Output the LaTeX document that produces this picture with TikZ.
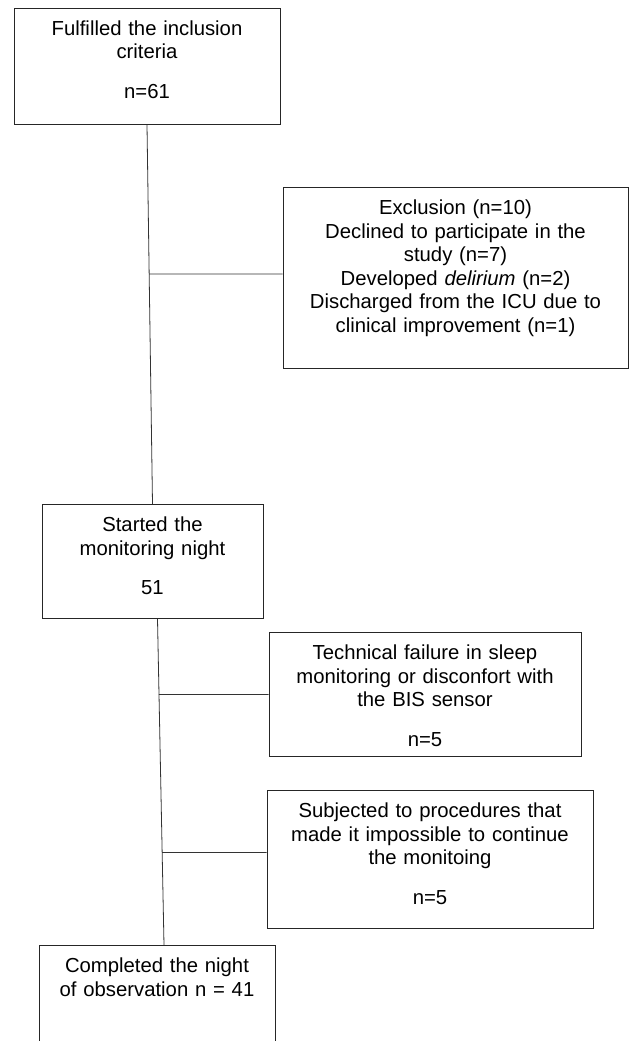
\documentclass[tikz,border=0pt]{standalone}
\usepackage{fontspec}
\setmainfont{Liberation Sans}
\usetikzlibrary{positioning,calc}

\begin{document}
\begin{tikzpicture}[x=1pt, y=-1pt,
flowbox/.style={draw=black!85, line width=1pt, anchor=north, align=center, inner xsep=4pt, inner ysep=12.5pt, text height=14.5pt, font=\fontsize{20.3}{23.5}\selectfont},
link/.style={draw=black!80, line width=0.8pt}]
\useasboundingbox (0,0) rectangle (632,1041);
\clip (0,0) rectangle (632,1041);
\node[flowbox, text width=258pt, text depth=76.5pt] (crit) at (147,8)
{Fulfilled the inclusion\\criteria\\[16.5pt]n=61};
\node[flowbox, text width=337pt, text depth=141.5pt] (excl) at (455.5,187)
{Exclusion (n=10)\\Declined to participate in the\\study (n=7)\\Developed \textit{delirium} (n=2)\\Discharged from the ICU due to\\clinical improvement (n=1)};
\node[flowbox, text width=213pt, text depth=74.5pt] (start) at (152.5,504)
{Started the\\monitoring night\\[16pt]51};
\node[flowbox, text width=304pt, text depth=84.5pt] (tech) at (425,632)
{Technical failure in sleep\\monitoring or disconfort with\\the BIS sensor\\[16pt]n=5};
\node[flowbox, text width=318pt, text depth=98.5pt] (proc) at (430,790)
{Subjected to procedures that\\made it impossible to continue\\the monitoing\\[16pt]n=5};
\node[flowbox, text width=228pt, text depth=75pt] (done) at (157,945)
{Completed the night\\of observation n = 41};
% trunk ends and branch points
\coordinate (t1) at ([xshift=5pt]start.south);
\coordinate (t2) at ([xshift=7pt]done.north);
\coordinate (bexcl) at ([yshift=4pt]excl.west);
\coordinate (bproc) at ([yshift=7pt]proc.west);
\path[link]
(crit.south) edge (start.north)
(t1) edge (t2)
(bexcl) edge (intersection cs: first line={(crit.south)--(start.north)}, second line={(bexcl)--([xshift=-10pt]bexcl)})
(tech.west) edge (intersection cs: first line={(t1)--(t2)}, second line={(tech.west)--([xshift=-10pt]tech.west)})
(bproc) edge (intersection cs: first line={(t1)--(t2)}, second line={(bproc)--([xshift=-10pt]bproc)})
;
\end{tikzpicture}
\end{document}
